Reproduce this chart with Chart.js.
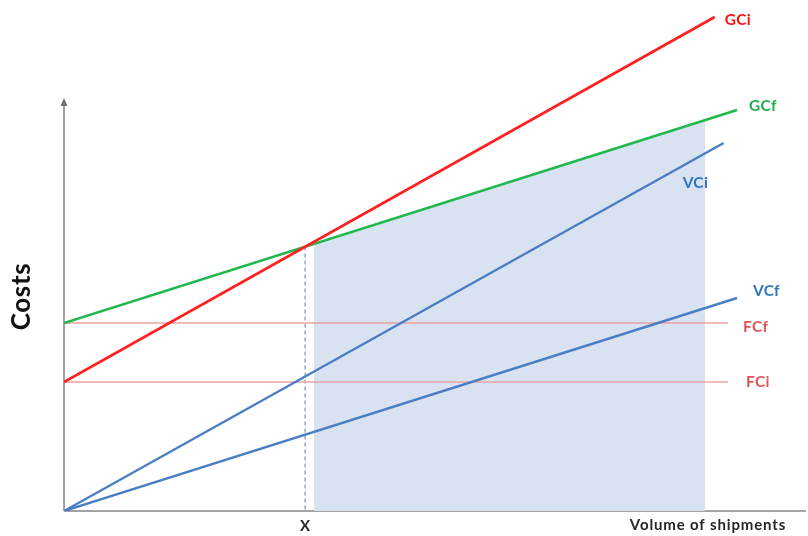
<!DOCTYPE html>
<html>
<head>
<meta charset="utf-8">
<script src="https://cdn.jsdelivr.net/npm/chart.js@4.4.1/dist/chart.umd.min.js"></script>
<style>
  html, body { margin: 0; padding: 0; background: #ffffff; }
  #wrap { width: 808px; height: 536px; }
</style>
</head>
<body>
<div id="wrap"><canvas id="c" width="808" height="536"></canvas></div>
<script>
// Cost lines against volume of shipments (arbitrary units, 0-100 on both axes)
const volumeGCi = [0, 87.7];
const costGCi   = [25.8, 98.8];
const volumeGCf = [0, 90.7];
const costGCf   = [37.6, 80.2];
const volumeVCi = [0, 88.9];
const costVCi   = [0, 73.6];
const volumeVCf = [0, 90.7];
const costVCf   = [0, 42.6];
const volumeFCf = [0, 89.5];
const costFCf   = [37.6, 37.6];
const volumeFCi = [0, 89.5];
const costFCi   = [25.8, 25.8];

// Break-even point where both total-cost lines cross
const breakEvenVolume = 32.5;
const breakEvenCost   = 52.9;

// Region beyond the break-even point (under GCf)
const shadeVolume = [33.7, 87.5, 86.4];
const shadeCost   = [53.2, 78.5, 0];

// Axis texts
const xTickLabel = 'X';
const xAxisTitle = 'Volume of shipments';
const yAxisTitle = 'Costs';
const yAxisArrowCost = 82.6;

const pts = (xs, ys) => xs.map((x, i) => ({ x: x, y: ys[i] }));

const RED = '#ff1f1f', GREEN = '#1fb84e', BLUE = '#4a7ec4', PINK = '#e9a3a3';

const datasets = [
  { label: 'GCi', data: pts(volumeGCi, costGCi), borderColor: RED,   borderWidth: 2.6 },
  { label: 'GCf', data: pts(volumeGCf, costGCf), borderColor: GREEN, borderWidth: 2.6 },
  { label: 'VCi', data: pts(volumeVCi, costVCi), borderColor: BLUE,  borderWidth: 2.4 },
  { label: 'VCf', data: pts(volumeVCf, costVCf), borderColor: BLUE,  borderWidth: 2.4 },
  { label: 'FCf', data: pts(volumeFCf, costFCf), borderColor: PINK,  borderWidth: 1.3 },
  { label: 'FCi', data: pts(volumeFCi, costFCi), borderColor: PINK,  borderWidth: 1.3 },
  { label: 'breakEven', data: pts([breakEvenVolume, breakEvenVolume], [breakEvenCost, 0]),
    borderColor: '#93a9c9', borderWidth: 1.5, borderDash: [4, 3] },
  { label: 'shade', data: pts(shadeVolume, shadeCost), borderWidth: 0, borderColor: 'rgba(0,0,0,0)',
    fill: 'origin', backgroundColor: '#d9e2f1' }
].map(d => Object.assign({ pointRadius: 0, tension: 0, fill: false }, d));

// Text next to each line end: [dx, dy, color]
const endLabels = {
  GCi: [10, 3, '#ff1010'],
  GCf: [12, -4, '#1fae4a'],
  VCi: [-41, 40, '#2f74bd'],
  VCf: [16, -7, '#2f74bd'],
  FCf: [15, 4, '#e05555'],
  FCi: [18, 0, '#e05555']
};

const decor = {
  id: 'decor',
  beforeDatasetsDraw(chart) {
    const { ctx, chartArea: a, scales: { x, y } } = chart;
    const x0 = x.getPixelForValue(0), y0 = y.getPixelForValue(0);
    const yTop = y.getPixelForValue(yAxisArrowCost);
    ctx.save();
    ctx.strokeStyle = '#858585';
    ctx.lineWidth = 1.5;
    ctx.beginPath();
    ctx.moveTo(x0, y0); ctx.lineTo(a.right, y0);
    ctx.moveTo(x0, y0); ctx.lineTo(x0, yTop + 4);
    ctx.stroke();
    ctx.fillStyle = '#6f6f6f';
    ctx.beginPath();
    ctx.moveTo(x0, yTop); ctx.lineTo(x0 - 3.5, yTop + 8); ctx.lineTo(x0 + 3.5, yTop + 8);
    ctx.closePath(); ctx.fill();
    ctx.restore();
  },
  afterDatasetsDraw(chart) {
    const { ctx, scales: { x, y } } = chart;
    ctx.save();
    ctx.textBaseline = 'middle';
    ctx.textAlign = 'left';
    ctx.font = 'bold 15.5px Lato, "Open Sans", sans-serif';
    ctx.letterSpacing = '0.3px';
    chart.data.datasets.forEach(ds => {
      const spec = endLabels[ds.label];
      if (!spec) return;
      const p = ds.data[ds.data.length - 1];
      ctx.fillStyle = spec[2];
      ctx.fillText(ds.label, x.getPixelForValue(p.x) + spec[0], y.getPixelForValue(p.y) + spec[1]);
    });
    const yBase = y.getPixelForValue(0);
    ctx.fillStyle = '#262626';
    ctx.textAlign = 'center';
    ctx.font = 'bold 15px Lato, "Open Sans", sans-serif';
    ctx.letterSpacing = '0px';
    ctx.fillText(xTickLabel, x.getPixelForValue(breakEvenVolume), yBase + 15);
    ctx.font = 'bold 15px Lato, "Open Sans", sans-serif';
    ctx.letterSpacing = '0.85px';
    ctx.fillText(xAxisTitle, 708, yBase + 14);
    ctx.font = 'bold 26px Lato, "Open Sans", sans-serif';
    ctx.letterSpacing = '0.6px';
    ctx.translate(22, (y.getPixelForValue(0) + y.getPixelForValue(yAxisArrowCost)) / 2 - 8);
    ctx.rotate(-Math.PI / 2);
    ctx.fillStyle = '#111111';
    ctx.fillText(yAxisTitle, 0, 0);
    ctx.restore();
  }
};

new Chart(document.getElementById('c'), {
  type: 'line',
  data: { datasets: datasets },
  options: {
    responsive: false,
    animation: false,
    layout: { padding: { left: 64, right: 2, top: 11, bottom: 25 } },
    plugins: { legend: { display: false }, tooltip: { enabled: false } },
    scales: {
      x: { type: 'linear', min: 0, max: 100, display: false },
      y: { type: 'linear', min: 0, max: 100, display: false }
    }
  },
  plugins: [decor]
});
</script>
</body>
</html>
